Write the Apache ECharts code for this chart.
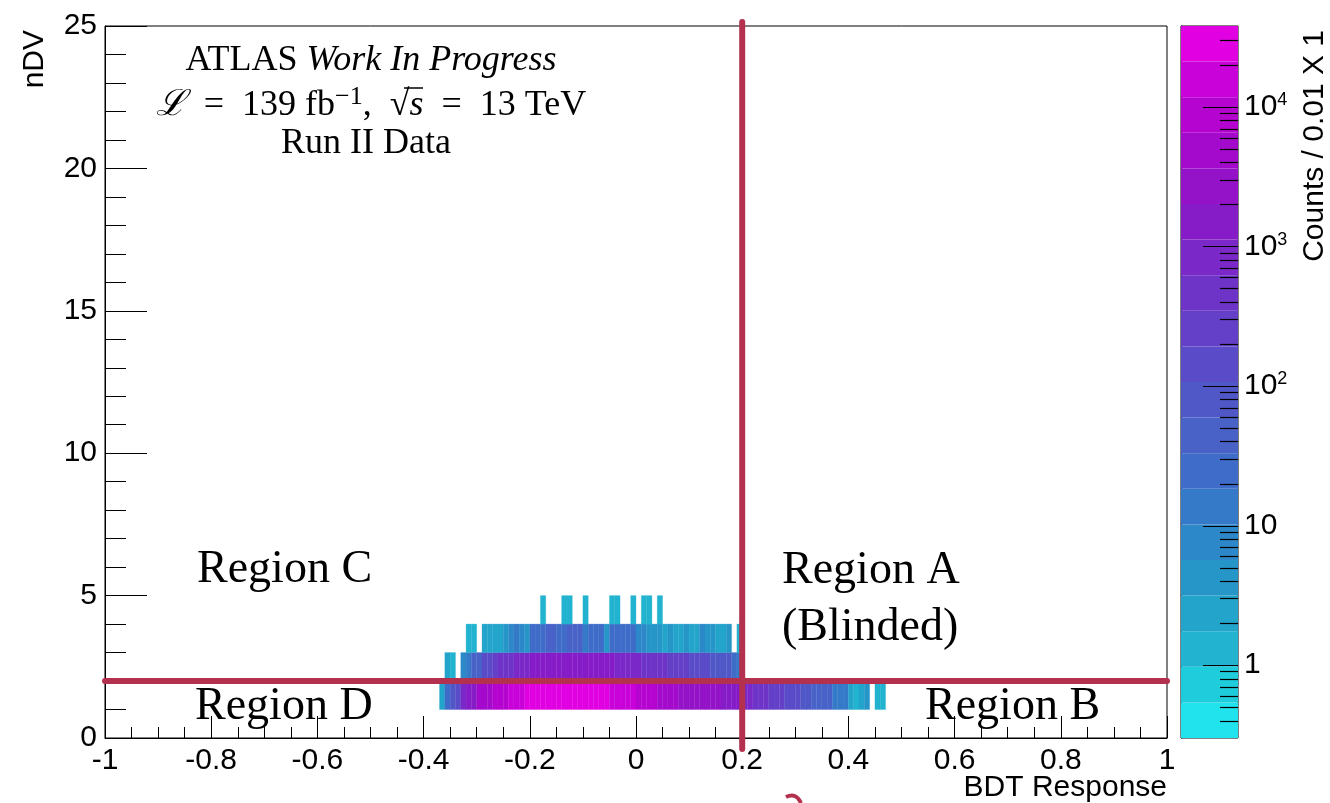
<!doctype html>
<html>
<head>
<meta charset="utf-8">
<title>BDT Response vs nDV</title>
<style>
  html, body { margin: 0; padding: 0; background: #fff; }
  #chart { width: 1330px; height: 803px; }
</style>
</head>
<body>
<div id="chart"></div>
<script src="https://cdn.jsdelivr.net/npm/echarts/dist/echarts.min.js"></script>
<script>
// ---- data (counts per 0.01 BDT bin, one list per nDV row) ----
var BIN_W = 0.01;
var Z_MIN = 0.3, Z_MAX = 38000;          // colour scale range
var BDT_CUT = 0.2, NDV_CUT = 2;          // region boundaries

var ndv1Start = -0.37;
var ndv1Counts = [
  2, 25, 80, 150, 850, 1500, 1500, 4800, 5000, 5200,
  8500, 9000, 9500, 15000, 16000, 17000,
  22000, 24000, 25000, 26000, 27000, 28000, 29000, 30000,
  30000, 29000, 28000, 27000, 26000, 25000, 24000, 22000,
  18000, 17000, 16000, 15000, 14000,
  10000, 9500, 9000, 8500,
  6000, 5500, 5000, 4500,
  3300, 3200, 3100, 3000, 2800, 2600, 2400, 2200,
  1800, 1700, 1500, 1300,
  950, 800, 550, 480, 420, 300, 260, 220, 170, 150, 125,
  90, 70, 55, 48, 42, 36, 16, 14, 12, 3, 1, 2, 4, 0, 1, 1
];

var ndv2Start = -0.36;
var ndv2Counts = [
  2, 1, 0, 8, 14, 45, 50, 140, 160, 250, 400, 450, 500, 700, 800, 900,
  1200, 1300, 1400, 1500, 1600, 1700, 1800, 1900,
  1900, 1800, 1700, 1600, 1500, 1400, 1300, 1200,
  1000, 950, 900, 850, 800,
  580, 540, 500, 460, 420,
  320, 290, 260, 230,
  180, 160, 140, 120,
  100, 90, 75, 65, 25, 15
];

var ndv3Start = -0.32;
var ndv3Counts = [
  1, 1, 0, 2, 3, 2, 3, 4, 7, 12, 9, 5,
  20, 22, 24, 35, 40, 28, 26, 38, 42, 36, 15, 22, 26, 24, 5,
  20, 24, 27, 25, 21, 9, 8, 5, 4, 5, 3, 4, 3, 2, 4, 2, 3, 7, 4, 5, 2, 3, 4, 0, 1
];

var ndv4Start = -0.18;
var ndv4Counts = [
  1, 0, 0, 0, 1, 1, 0, 0, 1, 0, 0, 0, 0, 1, 1, 0, 0, 1, 0, 1, 1, 0, 1
];

var xTicksMinor = 4, yTicksMinor = 5;
var zMajorLogs = [0, 1, 2, 3, 4];
var zMinorValues = [0.4, 0.5, 0.6, 0.7, 0.8, 0.9,
  2, 3, 4, 5, 6, 7, 8, 9, 20, 30, 40, 50, 60, 70, 80, 90,
  200, 300, 400, 500, 600, 700, 800, 900,
  2000, 3000, 4000, 5000, 6000, 7000, 8000, 9000, 20000, 30000];

// ---- palette: 20 contour bands, cyan -> blue -> purple -> magenta ----
var palette = [
  '#21e3ee', '#1fccdb', '#21b3cf', '#23a4cb', '#2696c8',
  '#2c88c8', '#347ac8', '#3e6cc8', '#4862c8', '#5058c8',
  '#5a4cc8', '#6440c8', '#6e34c8', '#7a28c8', '#861cc8',
  '#9412c8', '#a40acb', '#b604d0', '#c802d8', '#e000e2'
];
var LOG_MIN = Math.log10(Z_MIN), LOG_MAX = Math.log10(Z_MAX);
var BAND = (LOG_MAX - LOG_MIN) / palette.length;
var RED = '#b3304f';

function colorFor(c) {
  var k = Math.floor((Math.log10(c) - LOG_MIN) / BAND);
  k = Math.max(0, Math.min(palette.length - 1, k));
  return palette[k];
}

var cells = [];
function addRow(ndv, start, counts) {
  counts.forEach(function (c, i) {
    if (c > 0) cells.push([Math.round((start + i * BIN_W) * 100) / 100, ndv, c]);
  });
}
addRow(1, ndv1Start, ndv1Counts);
addRow(2, ndv2Start, ndv2Counts);
addRow(3, ndv3Start, ndv3Counts);
addRow(4, ndv4Start, ndv4Counts);

var bands = palette.map(function (col, k) { return [k]; });

// colour-bar tick marks: [log10 value, 1 = major]
var zTicks = zMajorLogs.map(function (v) { return [v, 1]; })
  .concat(zMinorValues.map(function (v) { return [Math.log10(v), 0]; }));

var SANS = 'Liberation Sans, Arial, sans-serif';
var SERIF = 'Liberation Serif, Times New Roman, serif';

var chart = echarts.init(document.getElementById('chart'));
var option = {
  animation: false,
  backgroundColor: '#fff',
  grid: [
    { left: 105, right: 163, top: 26, bottom: 65, show: true, borderColor: '#000', borderWidth: 1 },
    { left: 1181, width: 57, top: 26, bottom: 65, show: true, borderColor: '#000', borderWidth: 1 }
  ],
  xAxis: [
    {
      type: 'value', gridIndex: 0, min: -1, max: 1, interval: 0.2,
      axisLine: { show: true, onZero: false, lineStyle: { color: '#000', width: 1 } },
      axisTick: { show: true, inside: true, length: 22, lineStyle: { color: '#000' } },
      minorTick: { show: true, splitNumber: xTicksMinor, length: 11, lineStyle: { color: '#000' } },
      splitLine: { show: false },
      axisLabel: { color: '#000', fontFamily: SANS, fontSize: 30, margin: 8 }
    },
    { type: 'value', gridIndex: 1, min: 0, max: 1, show: false }
  ],
  yAxis: [
    {
      type: 'value', gridIndex: 0, min: 0, max: 25, interval: 5,
      axisLine: { show: true, onZero: false, lineStyle: { color: '#000', width: 1 } },
      axisTick: { show: true, inside: true, length: 42, lineStyle: { color: '#000' } },
      minorTick: { show: true, splitNumber: yTicksMinor, length: 21, lineStyle: { color: '#000' } },
      splitLine: { show: false },
      axisLabel: { color: '#000', fontFamily: SANS, fontSize: 30, margin: 8 }
    },
    {
      type: 'value', gridIndex: 1, min: LOG_MIN, max: LOG_MAX, position: 'right',
      axisLine: { show: true, lineStyle: { color: '#000', width: 1 } },
      axisTick: { show: false },
      splitLine: { show: false },
      axisLabel: {
        customValues: zMajorLogs, color: '#000', fontFamily: SANS, fontSize: 30, margin: 6,
        formatter: function (v) {
          var n = Math.round(v);
          if (n === 0) return '1';
          if (n === 1) return '10';
          return '10{sup|' + n + '}';
        },
        rich: { sup: { fontFamily: SANS, fontSize: 18, color: '#000', padding: [0, 0, 13, 0] } }
      }
    }
  ],
  series: [
    {
      type: 'custom', xAxisIndex: 0, yAxisIndex: 0, data: cells,
      encode: { x: 0, y: 1 },
      renderItem: function (params, api) {
        var x0 = api.value(0), y0 = api.value(1), c = api.value(2);
        var p0 = api.coord([x0, y0 + 1]);
        var p1 = api.coord([x0 + BIN_W, y0]);
        var col = colorFor(c);
        return {
          type: 'rect',
          shape: { x: p0[0], y: p0[1], width: p1[0] - p0[0], height: p1[1] - p0[1] },
          style: { fill: col, stroke: col, lineWidth: 0.3 }
        };
      }
    },
    {
      type: 'custom', xAxisIndex: 1, yAxisIndex: 1, data: bands,
      renderItem: function (params, api) {
        var k = api.value(0);
        var p0 = api.coord([0, LOG_MIN + (k + 1) * BAND]);
        var p1 = api.coord([1, LOG_MIN + k * BAND]);
        return {
          type: 'rect',
          shape: { x: p0[0], y: p0[1], width: p1[0] - p0[0], height: p1[1] - p0[1] },
          style: { fill: palette[k] }
        };
      }
    },
    {
      type: 'custom', xAxisIndex: 1, yAxisIndex: 1, data: zTicks, z: 5,
      renderItem: function (params, api) {
        var p = api.coord([1, api.value(0)]);
        var len = api.value(1) ? 35 : 18;
        var y = Math.round(p[1]) + 0.5;
        return {
          type: 'line',
          shape: { x1: p[0] - len, y1: y, x2: p[0], y2: y },
          style: { stroke: '#000', lineWidth: 1.2 }
        };
      }
    },
    {
      type: 'custom', xAxisIndex: 0, yAxisIndex: 0, z: 10,
      data: [['v', BDT_CUT], ['h', NDV_CUT]],
      renderItem: function (params, api) {
        var v = api.value(1);
        var a, b;
        if (params.dataIndex === 0) {
          a = api.coord([v, 25]); b = api.coord([v, 0]);
          a[1] -= 4; b[1] += 11;
        } else {
          a = api.coord([-1, v]); b = api.coord([1, v]);
        }
        return {
          type: 'line',
          shape: { x1: a[0], y1: a[1], x2: b[0], y2: b[1] },
          style: { stroke: RED, lineWidth: 6, lineCap: 'round' }
        };
      },
      clip: false
    }
  ],
  graphic: [
    { type: 'text', x: 35, y: 30, rotation: Math.PI / 2,
      style: { text: 'nDV', font: '30px ' + SANS, fill: '#000', align: 'right', verticalAlign: 'middle' } },
    { type: 'text', x: 1167, y: 788,
      style: { text: 'BDT Response', font: '30px ' + SANS, fill: '#000', align: 'right', verticalAlign: 'middle' } },
    { type: 'text', x: 1315, y: 30, rotation: Math.PI / 2,
      style: { text: 'Counts / 0.01 X 1', font: '30px ' + SANS, fill: '#000', align: 'right', verticalAlign: 'middle' } },
    { type: 'text', x: 371, y: 61,
      style: { text: 'ATLAS {it|Work In Progress}', font: '36px ' + SERIF, fill: '#000', align: 'center', verticalAlign: 'middle',
        rich: { it: { font: 'italic 36px ' + SERIF, fill: '#000' } } } },
    { type: 'text', x: 371, y: 106,
      style: { text: '{it|ℒ}  =  139 fb{sup|−1},  √{it|s}  =  13 TeV', font: '36px ' + SERIF, fill: '#000', align: 'center', verticalAlign: 'middle',
        rich: { it: { font: 'italic 36px ' + SERIF, fill: '#000' },
                sup: { font: '26px ' + SERIF, fill: '#000', padding: [0, 0, 18, 0] } } } },
    { type: 'line', shape: { x1: 404, y1: 88, x2: 423, y2: 88 },
      style: { stroke: '#000', lineWidth: 1.5 } },
    { type: 'text', x: 366, y: 144,
      style: { text: 'Run II Data', font: '36px ' + SERIF, fill: '#000', align: 'center', verticalAlign: 'middle' } },
    { type: 'text', x: 197, y: 570,
      style: { text: 'Region C', font: '46px ' + SERIF, fill: '#000', align: 'left', verticalAlign: 'middle' } },
    { type: 'text', x: 782, y: 571,
      style: { text: 'Region A', font: '46px ' + SERIF, fill: '#000', align: 'left', verticalAlign: 'middle' } },
    { type: 'text', x: 782, y: 628,
      style: { text: '(Blinded)', font: '46px ' + SERIF, fill: '#000', align: 'left', verticalAlign: 'middle' } },
    { type: 'text', x: 195, y: 707,
      style: { text: 'Region D', font: '46px ' + SERIF, fill: '#000', align: 'left', verticalAlign: 'middle' } },
    { type: 'text', x: 925, y: 707,
      style: { text: 'Region B', font: '46px ' + SERIF, fill: '#000', align: 'left', verticalAlign: 'middle' } },
    { type: 'bezierCurve', shape: { x1: 786, y1: 797, cpx1: 796, cpy1: 792, x2: 801, y2: 803 },
      style: { stroke: RED, lineWidth: 4, fill: null } }
  ]
};
chart.setOption(option);
</script>
</body>
</html>
